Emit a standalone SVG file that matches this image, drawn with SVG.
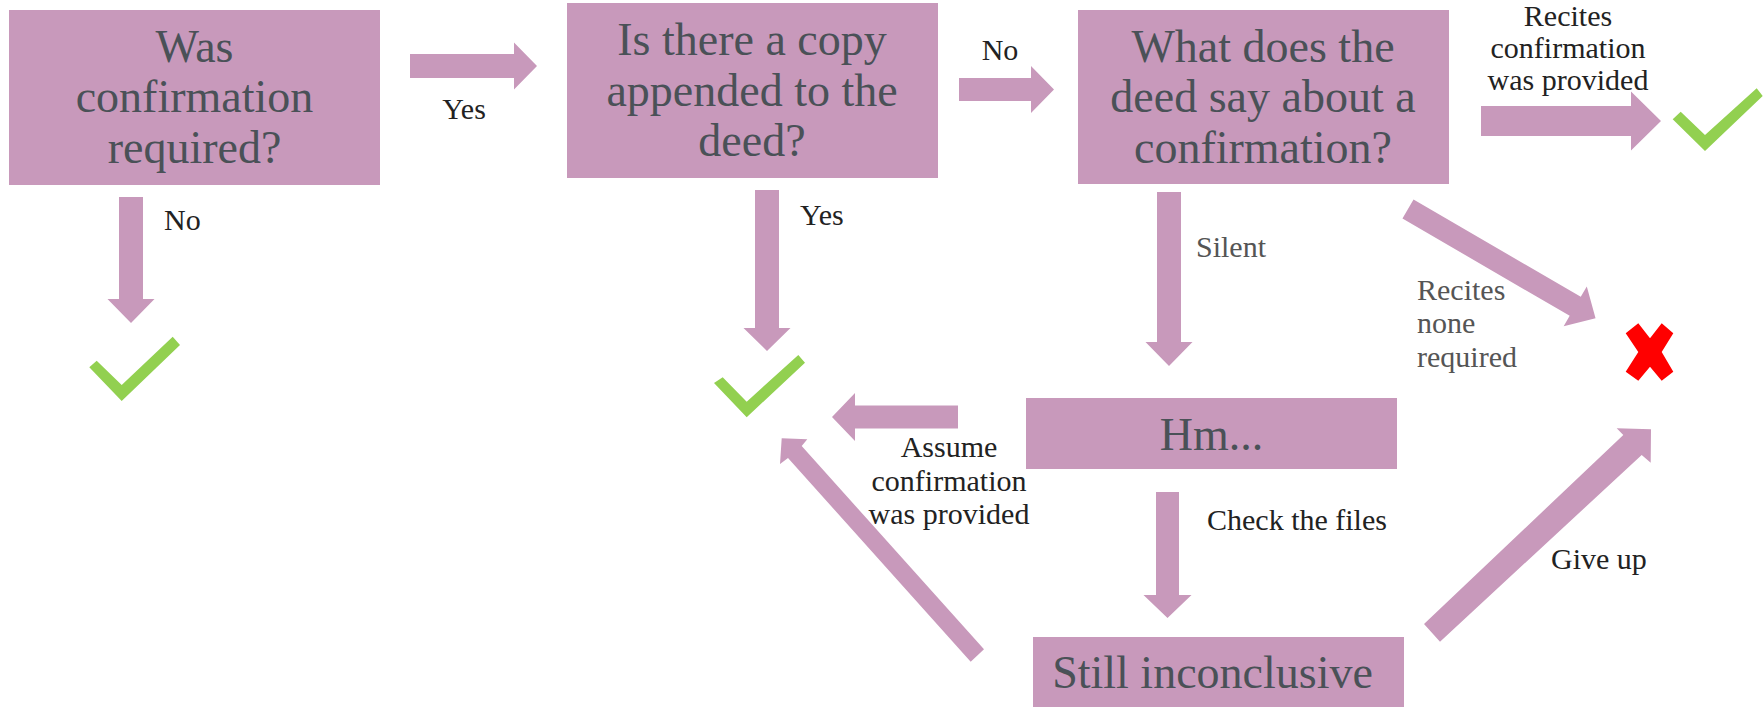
<svg xmlns="http://www.w3.org/2000/svg" width="1763" height="707" viewBox="0 0 1763 707">
<style>
.box{fill:#c899bb}
.arr{fill:#c899bb}
.bt{font-family:"Liberation Serif","Times New Roman",serif;font-size:46px;fill:#4a5157;text-anchor:middle}
.lb{font-family:"Liberation Serif","Times New Roman",serif;font-size:30px;fill:#222}
.lg{font-family:"Liberation Serif","Times New Roman",serif;font-size:30px;fill:#555}
.mid{text-anchor:middle}
.ok{fill:#92d050}
.no{fill:#ff0000}
</style>
<rect width="1763" height="707" fill="#fff"/>
<g id="connectors">
<polygon class="arr" transform="translate(410,66)" points="0,-12 104,-12 104,-23.5 127,0 104,23.5 104,12 0,12"/>
<polygon class="arr" transform="translate(131,197) rotate(90)" points="0,-12 102,-12 102,-23.5 126,0 102,23.5 102,12 0,12"/>
<polygon class="arr" transform="translate(959,89.5)" points="0,-11.5 72,-11.5 72,-23.5 95,0 72,23.5 72,11.5 0,11.5"/>
<polygon class="arr" transform="translate(767,190) rotate(90)" points="0,-12 138,-12 138,-23.5 161,0 138,23.5 138,12 0,12"/>
<polygon class="arr" transform="translate(1481,121)" points="0,-15 150,-15 150,-29.5 180,0 150,29.5 150,15 0,15"/>
<polygon class="arr" transform="translate(1169,192) rotate(90)" points="0,-12 150,-12 150,-23.5 174,0 150,23.5 150,12 0,12"/>
<polygon class="arr" transform="translate(1408,209) rotate(30.2)" points="0,-11 193.5,-11 193.5,-23 217,0 193.5,23 193.5,11 0,11"/>
<polygon class="arr" transform="translate(958,417) rotate(180)" points="0,-11.5 103,-11.5 103,-24 126,0 103,24 103,11.5 0,11.5"/>
<polygon class="arr" transform="translate(1167.5,492) rotate(90)" points="0,-11.5 103,-11.5 103,-24 126,0 103,24 103,11.5 0,11.5"/>
<polygon class="arr" points="970.7,661.7 984,649.3 801.7,446 807.3,439.3 781.7,438.3 780,464 788,458"/>
<polygon class="arr" points="1424,624 1623.3,435 1616.7,428.3 1651,429.3 1650.7,462.7 1641.7,455 1440,641.7"/>
<text class="lb mid" x="464" y="119">Yes</text>
<text class="lb" x="164" y="230">No</text>
<text class="lb mid" x="1000" y="60">No</text>
<text class="lb" x="800" y="225">Yes</text>
<text class="lb mid" x="1568" y="26">Recites</text>
<text class="lb mid" x="1568" y="58">confirmation</text>
<text class="lb mid" x="1568" y="90">was provided</text>
<text class="lg" x="1196" y="257">Silent</text>
<text class="lg" x="1417" y="300">Recites</text>
<text class="lg" x="1417" y="333">none</text>
<text class="lg" x="1417" y="367">required</text>
<text class="lb mid" x="949" y="457">Assume</text>
<text class="lb mid" x="949" y="491">confirmation</text>
<text class="lb mid" x="949" y="524">was provided</text>
<text class="lb" x="1207" y="530">Check the files</text>
<text class="lb" x="1551" y="569">Give up</text>
</g>
<g id="q1">
<rect class="box" x="9" y="10" width="371" height="175"/>
<text class="bt" x="194.5" y="62">Was</text>
<text class="bt" x="194.5" y="112">confirmation</text>
<text class="bt" x="194.5" y="163">required?</text>
</g>
<g id="q2">
<rect class="box" x="567" y="3" width="371" height="175"/>
<text class="bt" x="752" y="55">Is there a copy</text>
<text class="bt" x="752" y="106">appended to the</text>
<text class="bt" x="752" y="156">deed?</text>
</g>
<g id="q3">
<rect class="box" x="1078" y="10" width="371" height="174"/>
<text class="bt" x="1263" y="62">What does the</text>
<text class="bt" x="1263" y="112">deed say about a</text>
<text class="bt" x="1263" y="163">confirmation?</text>
</g>
<g id="hm">
<rect class="box" x="1026" y="398" width="371" height="71"/>
<text class="bt" x="1211.5" y="450">Hm...</text>
</g>
<g id="still">
<rect class="box" x="1033" y="637" width="371" height="71"/>
<text class="bt" x="1212.5" y="688">Still inconclusive</text>
</g>
<g id="check1">
<polygon class="ok" points="89.3,367.3 96.7,360.7 121.7,385 172.7,336.7 180,345 121.7,401"/>
</g>
<g id="check2">
<polygon class="ok" points="1672.7,119.3 1680.7,111.7 1705,135 1756.7,88.3 1762.7,96 1705,151"/>
</g>
<g id="check3">
<polygon class="ok" points="714,383 722.7,377.3 746.7,401.7 798.3,355 805,362.7 746.7,417.3"/>
</g>
<g id="cross">
<polygon class="no" points="1625.7,333.3 1638.3,323.3 1650,338.3 1661.7,323.3 1673.3,333.3 1661.7,352 1673.3,371.7 1661.7,380.7 1650,366.7 1638.3,380.7 1625.7,371.7 1638.3,352"/>
</g>
</svg>
